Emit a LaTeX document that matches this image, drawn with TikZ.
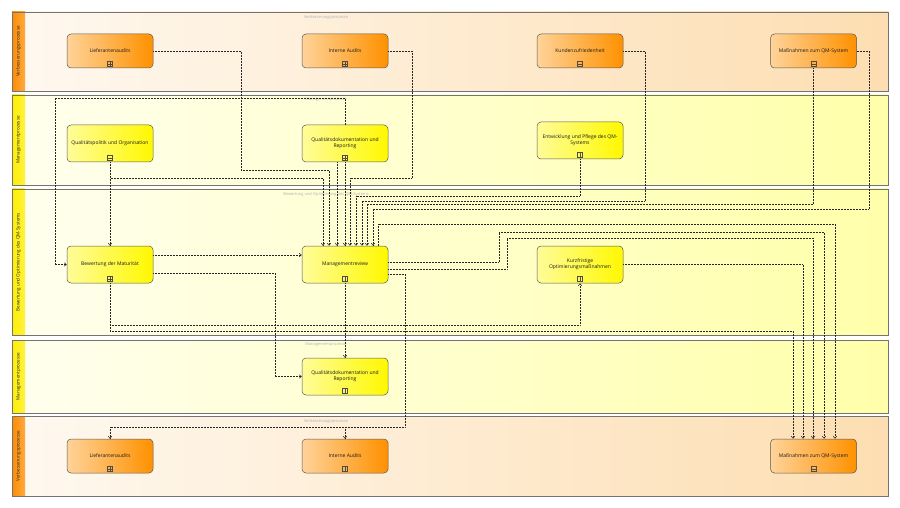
\documentclass[tikz,border=0pt]{standalone}
\usepackage{fontspec}
\setmainfont{Open Sans}
\usetikzlibrary{arrows.meta}
\usetikzlibrary{calc}

\definecolor{lanepeach}{RGB}{253,222,178}
\definecolor{lanegelb}{RGB}{255,255,170}
\definecolor{headorange}{RGB}{255,140,0}
\definecolor{headgelb}{RGB}{255,238,0}
\definecolor{boxorange}{RGB}{255,145,0}
\definecolor{boxgelb}{RGB}{255,248,0}

\tikzset{
    lane/.style={draw=black!55, line width=0.6pt},
    lanelabel/.style={rotate=90, font=\fontsize{4.6}{5}\selectfont, text=black!85},
    lanetitle/.style={font=\fontsize{4}{4.5}\selectfont, text=black!30},
    box/.style={rounded corners=4pt, draw=black!65, line width=0.5pt, minimum width=86pt,
        minimum height=37pt, align=center, inner sep=1pt, text=black!90},
    obox/.style={box, minimum height=34pt, left color=boxorange!40, middle color=boxorange!75,
        right color=boxorange},
    ybox/.style={box, left color=boxgelb!40, middle color=boxgelb!80,
        right color=boxgelb},
    marker/.style={draw=black!70, line width=0.4pt, minimum size=5pt, inner sep=0pt},
    plusmark/.style={marker, path picture={
        \draw[line width=0.4pt] (path picture bounding box.north) -- (path picture bounding box.south);
        \draw[line width=0.4pt] (path picture bounding box.west) -- (path picture bounding box.east);}},
    minusmark/.style={marker, path picture={
        \draw[line width=0.4pt] (path picture bounding box.west) -- (path picture bounding box.east);}},
    barmark/.style={marker, path picture={
        \draw[line width=0.4pt] (path picture bounding box.north) -- (path picture bounding box.south);}},
    flow/.style={densely dotted, line width=0.5pt, draw=black!85, ->},
}

\begin{document}
\begin{tikzpicture}[x=1pt, y=-1pt, font=\fontsize{5}{5.8}\selectfont,
    >={Straight Barb[length=2.2pt,width=3.6pt]}]
    \useasboundingbox (0,0) rectangle (900,508);

    % Bahnen
    \foreach \ya/\yb/\lname/\lcol/\hcol in {
        12/91/Verbesserungsprozesse/lanepeach/headorange,
        95/185/Managementprozesse/lanegelb/headgelb,
        189/335/Bewertung und Optimierung des QM-Systems/lanegelb/headgelb,
        340/413/Managementprozesse/lanegelb/headgelb,
        416/496/Verbesserungsprozesse/lanepeach/headorange}{
        \draw[lane, left color=\lcol!20, right color=\lcol] (12,\ya) rectangle (888,\yb);
        \fill[left color=\hcol, right color=\hcol!75] (12,\ya) rectangle (25,\yb);
        \draw[lane] (12,\ya) rectangle (888,\yb);
        \node[lanelabel] at (18.5,{(\ya+\yb)/2}) {\lname};
        \node[lanetitle] at (326,\ya+5) {\lname};
    }

    % Prozesse
    \node[obox] (lieftop) at (110,51) {Lieferantenaudits};
    \node[obox] (intop) at (345,51) {Interne Audits};
    \node[obox] (kunde) at (580,51) {Kundenzufriedenheit};
    \node[obox] (masstop) at (813.5,51) {Maßnahmen zum QM-System};

    \node[ybox] (qpol) at (110,143.5) {Qualitätspolitik und Organisation};
    \node[ybox] (qdoc) at (345,143.5) {Qualitätsdokumentation und\\Reporting};
    \node[ybox] (entw) at (580,140.5) {Entwicklung und Pflege des QM-\\Systems};

    \node[ybox] (bmat) at (110,264.5) {Bewertung der Maturität};
    \node[ybox] (mrev) at (345,264.5) {Managementreview};
    \node[ybox] (kurz) at (580,264.5) {Kurzfristige\\Optimierungsmaßnahmen};

    \node[ybox] (qdoc2) at (345,376.5) {Qualitätsdokumentation und\\Reporting};

    \node[obox] (liefbot) at (110,456) {Lieferantenaudits};
    \node[obox] (inbot) at (345,456) {Interne Audits};
    \node[obox] (massbot) at (813.5,456) {Maßnahmen zum QM-System};

    % Marker
    \foreach \n/\m in {lieftop/plusmark, intop/plusmark, kunde/minusmark, masstop/minusmark,
        qpol/minusmark, qdoc/plusmark, entw/barmark, bmat/plusmark, mrev/barmark,
        kurz/barmark, qdoc2/barmark, liefbot/plusmark, inbot/barmark, massbot/minusmark}
        \node[\m] at ([yshift=4.5pt]\n.south) {};

    % Verbindungen
    \draw[flow] (lieftop.east) -| (241,170) -| ([xshift=-16pt]mrev.north);
    \draw[flow] (intop.east) -| (412,178) -| ([xshift=5pt]mrev.north);
    \draw[flow] (qpol.south) |- (323,178) -- ([xshift=-22pt]mrev.north);
    \draw[flow] (qpol.south) -- (bmat.north);
    \draw[flow] ([xshift=-8pt]qdoc.south) -- ([xshift=-8pt]mrev.north);
    \draw[flow] (qdoc.south) -- (mrev.north);
    \draw[flow] (qdoc.north) |- (55,98) |- (bmat.west);
    \draw[flow] (entw.south) |- (356,196) -- ([xshift=11pt]mrev.north);
    \draw[flow] (kunde.east) -| (645,201) -| ([xshift=17pt]mrev.north);
    \draw[flow] (masstop.south) |- (367,204) -- ([xshift=22pt]mrev.north);
    \draw[flow] (masstop.east) -| (869,209) -| ([xshift=28pt]mrev.north);
    \draw[flow] ([xshift=33pt]mrev.north) |- (835,224) -- ([xshift=21.5pt]massbot.north);
    \draw[flow] ([yshift=2.5pt]mrev.east) -| (499,232) -| ([xshift=10.5pt]massbot.north);
    \draw[flow] ([yshift=-4.5pt]mrev.east) -| (507,238) -| ([xshift=-0.5pt]massbot.north);
    \draw[flow] ([yshift=-9.5pt]mrev.east) -| (405,427) -| (liefbot.north);
    \coordinate (abzw) at (345,427);
    \draw[flow] (abzw) -- (inbot.north);
    \draw[flow] ([yshift=9.5pt]bmat.east) -- ([yshift=9.5pt]mrev.west);
    \draw[flow] ([yshift=-8.5pt]bmat.east) -| (275,376.5) -- (qdoc2.west);
    \draw[flow] (bmat.south) |- (580,325) -- (kurz.south);
    \draw[flow] (bmat.south) |- (793,331) -- ([xshift=-20.5pt]massbot.north);
    \draw[flow] (kurz.east) -| ([xshift=-10.5pt]massbot.north);
    \draw[flow] (mrev.south) -- (qdoc2.north);
\end{tikzpicture}
\end{document}
